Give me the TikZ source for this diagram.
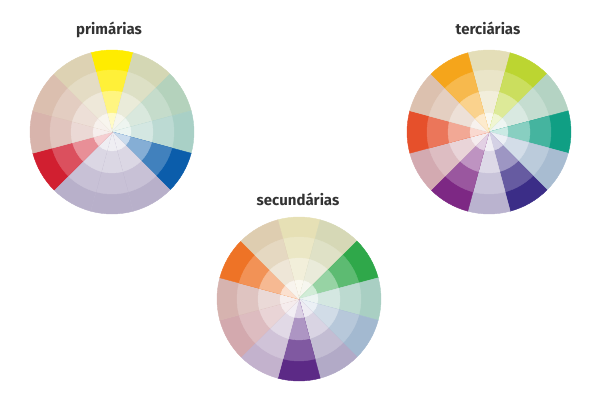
\documentclass[tikz,border=0pt]{standalone}
\usepackage{fontspec}
\setmainfont{Fira Sans}

% primárias (clockwise from the top)
\definecolor{pr0}{HTML}{FFEC00}
\definecolor{pr1}{HTML}{D4D7B4}
\definecolor{pr2}{HTML}{B4D2BC}
\definecolor{pr3}{HTML}{A9D0C6}
\definecolor{pr4}{HTML}{0B5DAB}
\definecolor{pr5}{HTML}{B8B0CA}
\definecolor{pr6}{HTML}{B8B0CA}
\definecolor{pr7}{HTML}{B8B0CA}
\definecolor{pr8}{HTML}{D11F30}
\definecolor{pr9}{HTML}{D8B4AC}
\definecolor{pr10}{HTML}{DBBFAF}
\definecolor{pr11}{HTML}{DDD2B3}
% secundárias
\definecolor{se0}{HTML}{E6E0B5}
\definecolor{se1}{HTML}{D6D8B6}
\definecolor{se2}{HTML}{2FA84A}
\definecolor{se3}{HTML}{A9CFC3}
\definecolor{se4}{HTML}{A3B9D0}
\definecolor{se5}{HTML}{B2AAC7}
\definecolor{se6}{HTML}{5C2A86}
\definecolor{se7}{HTML}{C3B2CD}
\definecolor{se8}{HTML}{D3A9AE}
\definecolor{se9}{HTML}{D6B3AF}
\definecolor{se10}{HTML}{EE7326}
\definecolor{se11}{HTML}{DECDB0}
% terciárias
\definecolor{te0}{HTML}{E4DEB8}
\definecolor{te1}{HTML}{BCD531}
\definecolor{te2}{HTML}{B4D3C3}
\definecolor{te3}{HTML}{109F84}
\definecolor{te4}{HTML}{A8BCD1}
\definecolor{te5}{HTML}{3B2D87}
\definecolor{te6}{HTML}{BAB3CF}
\definecolor{te7}{HTML}{7D2884}
\definecolor{te8}{HTML}{D3AAB1}
\definecolor{te9}{HTML}{E6502B}
\definecolor{te10}{HTML}{DCC1AF}
\definecolor{te11}{HTML}{F5A51B}

% #1 centre, #2 the twelve colours
\newcommand{\colorwheel}[2]{%
  \foreach \c [count=\i from 0] in {#2} {
    \pgfmathsetmacro{\s}{75-30*\i}
    \pgfmathsetmacro{\e}{105-30*\i}
    \foreach \r/\p in {82/100,62/78,41/50,19/22}
      \filldraw[fill=\c!\p!white,draw=\c!\p!white,line width=0.4pt,line join=round]
        (#1) -- ++(\s:\r pt) arc[start angle=\s, end angle=\e, radius=\r pt] -- cycle;
  }%
}

\begin{document}
\begin{tikzpicture}[x=1pt,y=1pt,
  title/.style={font=\bfseries\fontsize{15}{18}\selectfont,text=black!80,anchor=base}]
\useasboundingbox (0,0) rectangle (600,400);
\coordinate (prim) at (112,268);
\coordinate (sec) at (299,101);
\coordinate (terc) at (489,268);
\colorwheel{prim}{pr0,pr1,pr2,pr3,pr4,pr5,pr6,pr7,pr8,pr9,pr10,pr11}
\colorwheel{sec}{se0,se1,se2,se3,se4,se5,se6,se7,se8,se9,se10,se11}
\colorwheel{terc}{te0,te1,te2,te3,te4,te5,te6,te7,te8,te9,te10,te11}
\node[title] (tprim) at (109,365) {primárias};
\node[title] (tsec) at (298,195) {secundárias};
\node[title] (tterc) at (488,365) {terciárias};
\end{tikzpicture}
\end{document}
